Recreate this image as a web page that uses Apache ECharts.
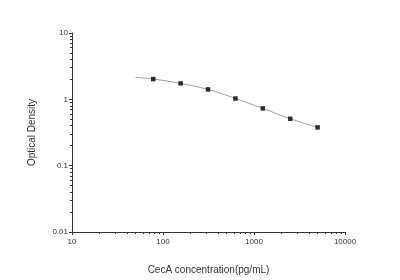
<!DOCTYPE html>
<html><head><meta charset="utf-8">
<script src="https://cdn.jsdelivr.net/npm/echarts@6/dist/echarts.min.js"></script>
<style>html,body{margin:0;padding:0;background:#fff}#c{width:400px;height:280px}</style>
</head><body><div id="c"></div>
<script>
const concentrations = [78.125, 156.25, 312.5, 625, 1250, 2500, 5000];
const opticalDensity = [2.02, 1.74, 1.41, 1.03, 0.73, 0.51, 0.377];
const curveX = [50, 78.125, 156.25, 312.5, 625, 1250, 2500, 5000];
const curveY = [2.15, 2.02, 1.74, 1.41, 1.03, 0.73, 0.51, 0.377];
const xTickLabels = ['10', '100', '1000', '10000'];
const yTickLabels = ['0.01', '0.1', '1', '10'];

const chart = echarts.init(document.getElementById('c'));
const axisCol = '#333';
const font = 'Liberation Sans, Arial, sans-serif';
chart.setOption({
  animation: false,
  grid: {left: 72, right: 55, top: 33, bottom: 47},
  xAxis: {
    type: 'log', logBase: 10, min: 10, max: 10000,
    name: 'CecA concentration(pg/mL)', nameLocation: 'middle', nameGap: 33,
    nameTextStyle: {fontFamily: font, fontSize: 10, color: '#333'},
    axisLine: {show: true, lineStyle: {color: axisCol, width: 1}},
    axisTick: {show: true, inside: false, length: 3, lineStyle: {color: axisCol}},
    minorTick: {show: true, splitNumber: 9, length: 2, lineStyle: {color: axisCol}},
    axisLabel: {fontFamily: font, fontSize: 8, color: '#333', margin: 6,
      formatter: v => xTickLabels[Math.round(Math.log10(v)) - 1]},
    splitLine: {show: false}
  },
  yAxis: {
    type: 'log', logBase: 10, min: 0.01, max: 10,
    name: 'Optical Density', nameLocation: 'middle', nameGap: 35,
    nameTextStyle: {fontFamily: font, fontSize: 10, color: '#333'},
    axisLine: {show: true, lineStyle: {color: axisCol, width: 1}},
    axisTick: {show: true, inside: false, length: 3, lineStyle: {color: axisCol}},
    minorTick: {show: true, splitNumber: 9, length: 2, lineStyle: {color: axisCol}},
    axisLabel: {fontFamily: font, fontSize: 8, color: '#333', margin: 4,
      formatter: v => yTickLabels[Math.round(Math.log10(v)) + 2]},
    splitLine: {show: false}
  },
  series: [
    {type: 'line', data: curveX.map((x, i) => [x, curveY[i]]), smooth: 0.4,
     showSymbol: false, lineStyle: {color: '#888', width: 0.8}, z: 1},
    {type: 'scatter', data: concentrations.map((x, i) => [x, opticalDensity[i]]),
     symbol: 'rect', symbolSize: 4.5, itemStyle: {color: '#000'}, z: 2}
  ]
});
</script></body></html>
